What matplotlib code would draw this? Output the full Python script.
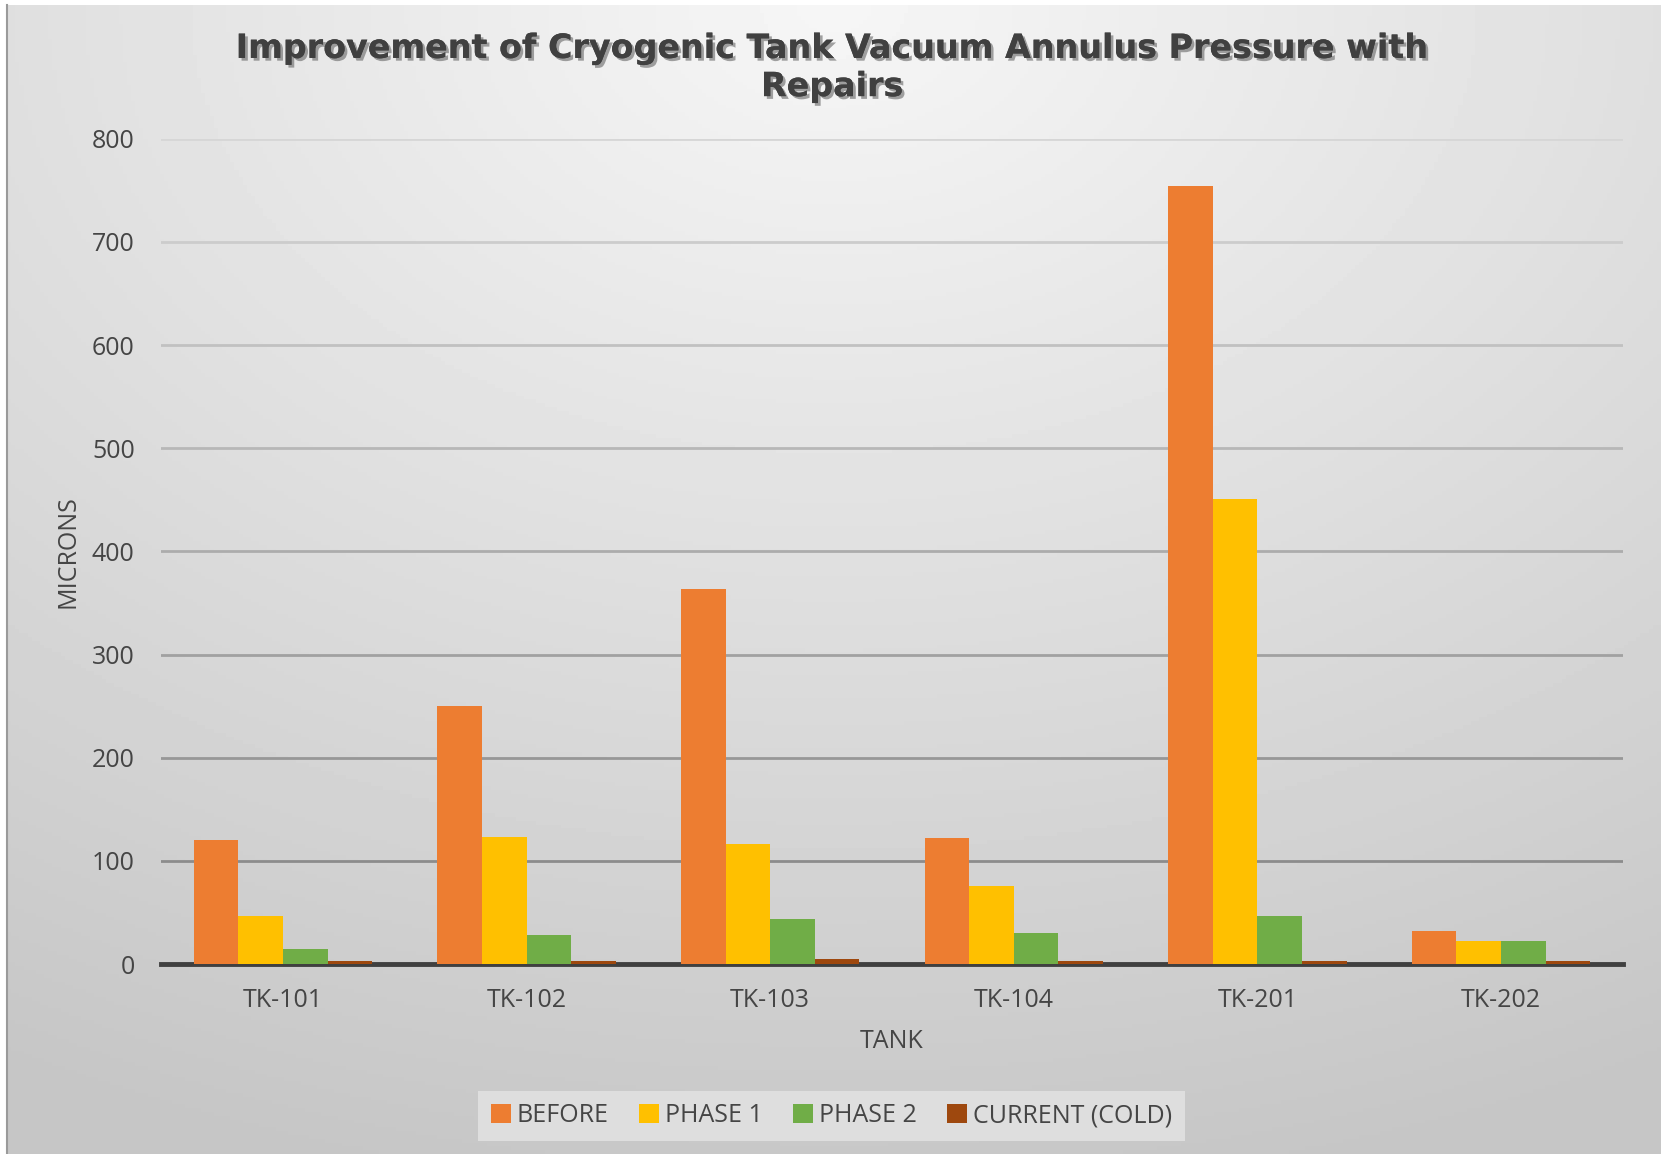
import numpy as np
import matplotlib
matplotlib.use("Agg")
import matplotlib.pyplot as plt
import matplotlib.patheffects as pe

tanks = ["TK-101", "TK-102", "TK-103", "TK-104", "TK-201", "TK-202"]
series = ["BEFORE", "PHASE 1", "PHASE 2", "CURRENT (COLD)"]
before = [120, 250, 364, 122, 754, 32]
phase1 = [47, 123, 116, 76, 451, 22]
phase2 = [15, 28, 44, 30, 47, 22]
current = [3, 3, 5, 3, 3, 3]
colors = ["#ED7D31", "#FFC000", "#70AD47", "#9E480E"]

plt.rcParams['font.family'] = ['Open Sans', 'DejaVu Sans']
txt = "#454545"

fig = plt.figure(figsize=(16.61, 11.54), dpi=100)

# background gradient (light at top centre, grey towards the corners)
bg = fig.add_axes([0.0045, 0, 0.9955, 0.9955], zorder=-10)
yy, xx = np.mgrid[0:1:300j, 0:1:400j]
r = np.sqrt((xx - 0.5) ** 2 + yy ** 2)
shade = 0.965 - 0.19 * np.clip(r / 1.05, 0, 1)
bg.imshow(shade, cmap="gray", vmin=0, vmax=1, aspect="auto",
          extent=[0, 1, 0, 1], origin="upper")
bg.set_axis_off()
fig.patches.append(plt.Line2D([0.0045, 0.0045], [0, 0.9955], transform=fig.transFigure,
                              color="#9a9a9a", lw=1.5))

ax = fig.add_axes([0.097, 0.1646, 0.88, 0.7151])
ax.patch.set_alpha(0)

x = np.arange(len(tanks))
data = [before, phase1, phase2, current]
w = 0.183
for i, (vals, name, c) in enumerate(zip(data, series, colors)):
    ax.bar(x + (i - 1.5) * w, vals, width=w, color=c, label=name, zorder=3)

ax.set_xlim(-0.5, len(tanks) - 0.5)
ax.set_ylim(0, 800)
ticks = list(range(0, 801, 100))
ax.set_yticks(ticks)
# gridlines fade towards the top, like the original
for t in ticks[1:]:
    g = 0.55 + 0.29 * (t - 100) / 700
    ax.axhline(t, color=(g, g, g), lw=2, zorder=1)
for s in ["top", "right", "left"]:
    ax.spines[s].set_visible(False)
ax.spines["bottom"].set_color("#404040")
ax.spines["bottom"].set_linewidth(3.5)
ax.spines["bottom"].set_zorder(2)
ax.set_xticks(x)
ax.set_xticklabels(tanks)
ax.tick_params(axis="both", length=0, labelsize=18, labelcolor=txt)
ax.tick_params(axis="x", pad=17)
ax.tick_params(axis="y", pad=19)

ax.set_xlabel("TANK", fontsize=18, color=txt, labelpad=12)
ax.set_ylabel("MICRONS", fontsize=18, color=txt, labelpad=8)

fig.text(0.501, 0.9415,
         "Improvement of Cryogenic Tank Vacuum Annulus Pressure with\nRepairs",
         ha="center", va="center", fontsize=24, fontweight="bold",
         family="DejaVu Sans", color="#404040", linespacing=1.2,
         path_effects=[pe.withSimplePatchShadow(offset=(2, -2), shadow_rgbFace="#666666", alpha=0.6),
                       pe.Normal()])

leg = fig.legend(loc="center", bbox_to_anchor=(0.5006, 0.033), ncol=4, fontsize=18,
                 frameon=True, fancybox=False, handlelength=0.8, handleheight=0.8,
                 handletextpad=0.25, columnspacing=1.2, borderpad=0.5, borderaxespad=0)
leg.get_frame().set_facecolor("#dedede")
leg.get_frame().set_edgecolor("none")
leg.get_frame().set_alpha(1)
for t in leg.get_texts():
    t.set_color(txt)

fig.savefig("out.png", dpi=100)
